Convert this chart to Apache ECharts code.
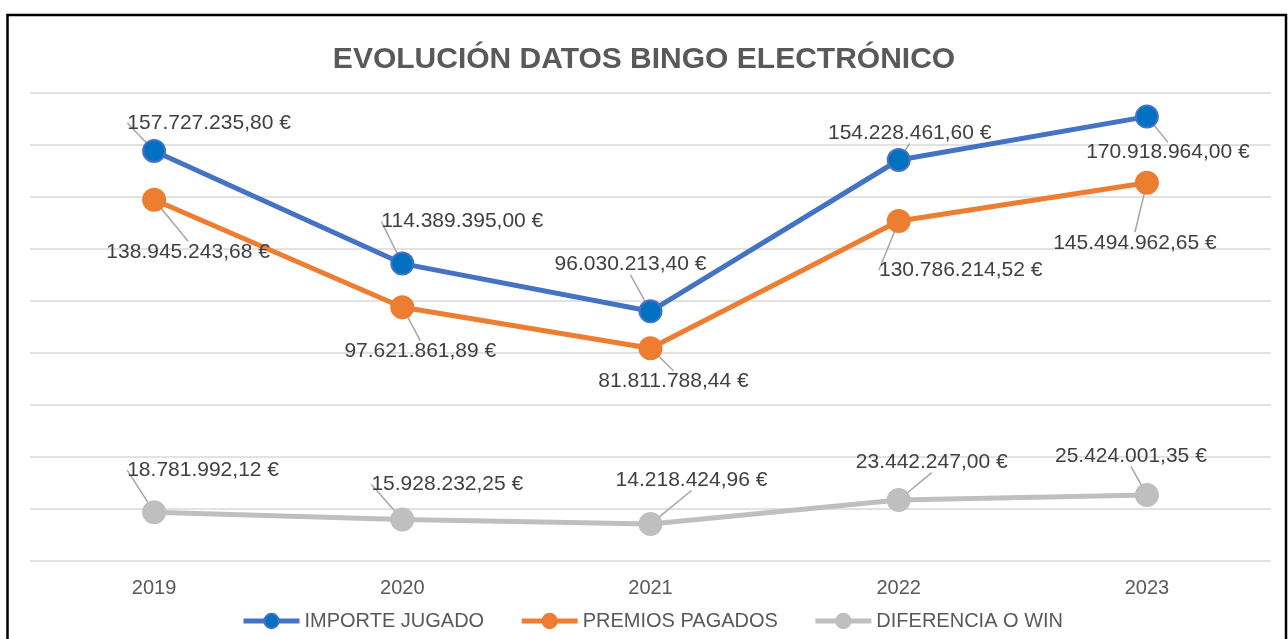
<!DOCTYPE html>
<html>
<head>
<meta charset="utf-8">
<script src="https://cdn.jsdelivr.net/npm/echarts@6/dist/echarts.min.js"></script>
<style>
  html, body { margin: 0; padding: 0; background: #fff; }
  #chart { width: 1288px; height: 639px; }
</style>
</head>
<body>
<div id="chart"></div>
<script>
var years = ['2019', '2020', '2021', '2022', '2023'];
var importeJugado = [157727235.80, 114389395.00, 96030213.40, 154228461.60, 170918964.00];
var premiosPagados = [138945243.68, 97621861.89, 81811788.44, 130786214.52, 145494962.65];
var diferenciaWin = [18781992.12, 15928232.25, 14218424.96, 23442247.00, 25424001.35];

// label offsets (label centre relative to point)
var labelOffsets = [
    [[55, -28], [60, -42], [-20, -47], [11, -27], [21, 36]],
    [[34, 52], [18, 44], [23, 33], [62, 49], [-12, 60]],
    [[49, -42], [45, -35], [41, -44], [33, -38], [-16, -39]]
];

var fontFamily = '"Liberation Sans", Arial, sans-serif';

function euro(v) {
    var parts = v.toFixed(2).split('.');
    var intPart = parts[0].replace(/\B(?=(\d{3})+(?!\d))/g, '.');
    return intPart + ',' + parts[1] + ' €';
}

function makeSeries(name, data, lineColor, markerColor, borderColor) {
    return {
        name: name,
        type: 'line',
        data: data,
        symbol: 'circle',
        symbolSize: 22,
        lineStyle: { color: lineColor, width: 5 },
        itemStyle: { color: markerColor, borderColor: borderColor, borderWidth: 2 },
        label: {
            show: true,
            position: 'inside',
            color: '#404040',
            fontSize: 21,
            fontFamily: fontFamily,
            formatter: function (p) { return euro(p.value); }
        },
        labelLine: {
            show: true,
            lineStyle: { color: '#A6A6A6', width: 1.5 }
        },
        emphasis: { disabled: true }
    };
}

var chartDom = document.getElementById('chart');
var myChart = echarts.init(chartDom);

var option = {
    animation: false,
    backgroundColor: '#fff',
    title: {
        text: 'EVOLUCIÓN DATOS BINGO ELECTRÓNICO',
        left: 'center',
        top: 40,
        textStyle: {
            color: '#595959',
            fontSize: 30,
            fontWeight: 'bold',
            fontFamily: fontFamily
        }
    },
    legend: {
        top: 606,
        left: 236,
        itemWidth: 56,
        itemHeight: 18,
        itemGap: 35,
        lineStyle: { width: 5 },
        textStyle: { color: '#595959', fontSize: 20, fontFamily: fontFamily }
    },
    grid: {
        left: 30,
        right: 17,
        top: 93,
        bottom: 78
    },
    xAxis: {
        type: 'category',
        data: years,
        boundaryGap: true,
        axisLine: { show: false },
        axisTick: { show: false },
        axisLabel: { color: '#595959', fontSize: 20, fontFamily: fontFamily, margin: 17 }
    },
    yAxis: {
        type: 'value',
        min: 0,
        max: 180000000,
        interval: 20000000,
        axisLabel: { show: false },
        axisLine: { show: false },
        axisTick: { show: false },
        splitLine: { lineStyle: { color: '#D9D9D9', width: 1.5 } }
    },
    labelLayout: function (params) {
        var off = labelOffsets[params.seriesIndex][params.dataIndex];
        return { dx: off[0], dy: off[1] };
    },
    graphic: [
        {
            type: 'rect',
            shape: { x: 7.5, y: 15, width: 1278.5, height: 700 },
            style: { fill: null, stroke: '#000', lineWidth: 2.5 },
            silent: true
        }
    ],
    series: [
        makeSeries('IMPORTE JUGADO', importeJugado, '#4472C4', '#0070C0', '#4472C4'),
        makeSeries('PREMIOS PAGADOS', premiosPagados, '#ED7D31', '#ED7D31', '#ED7D31'),
        makeSeries('DIFERENCIA O WIN', diferenciaWin, '#BFBFBF', '#BFBFBF', '#BFBFBF')
    ]
};
myChart.setOption(option);
</script>
</body>
</html>
